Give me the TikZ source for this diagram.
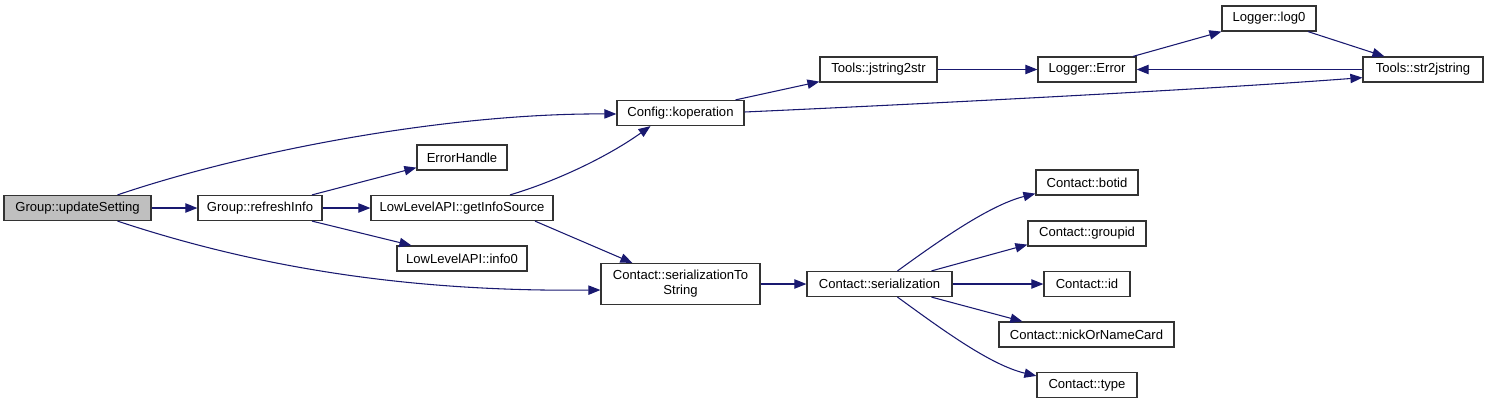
\documentclass[tikz,border=0pt]{standalone}
\usepackage{fontspec}
\setmainfont{Liberation Sans}
\usetikzlibrary{arrows.meta,calc}
\definecolor{navyc}{HTML}{191970}
\definecolor{grayfill}{HTML}{BFBFBF}
\definecolor{boxline}{HTML}{333333}
\begin{document}
\begin{tikzpicture}[x=0.75pt,y=-0.75pt,
  box/.style={draw=boxline,line width=0.9pt,fill=white,inner sep=0pt,minimum height=18.75pt,align=center,font=\fontsize{9.8}{11.2}\selectfont},
  w/.style={minimum width=#1*0.75pt},
  edge/.style={draw=navyc,line width=0.8pt,-{Triangle[length=9pt,width=7pt]}}]
\useasboundingbox (0,0) rectangle (1488,404);
\node[box,w=147,fill=grayfill] (us) at (77.5,208) {Group::updateSetting};
\node[box,w=124] (ri) at (260,208) {Group::refreshInfo};
\node[box,w=182] (gis) at (462,208) {LowLevelAPI::getInfoSource};
\node[box,w=90] (eh) at (462,157.5) {ErrorHandle};
\node[box,w=130] (i0) at (462,258.5) {LowLevelAPI::info0};
\node[box,w=127] (ko) at (680.5,113) {Config::koperation};
\node[box,w=159,minimum height=30.75pt] (sts) at (680.5,284) {Contact::serializationTo\\String};
\node[box,w=145] (ser) at (879.5,284) {Contact::serialization};
\node[box,w=117] (js) at (878.5,69.5) {Tools::jstring2str};
\node[box,w=98] (le) at (1087,69.5) {Logger::Error};
\node[box,w=94] (l0) at (1269,18.5) {Logger::log0};
\node[box,w=120] (s2) at (1423,69.5) {Tools::str2jstring};
\node[box,w=102] (bot) at (1087,182.5) {Contact::botid};
\node[box,w=118] (gid) at (1087,233.5) {Contact::groupid};
\node[box,w=86] (cid) at (1087,284) {Contact::id};
\node[box,w=175] (nick) at (1086.5,334.5) {Contact::nickOrNameCard};
\node[box,w=100] (typ) at (1087,385) {Contact::type};

\draw[edge] (us) -- (ri);
\draw[edge] ($(us.north)+(40,0)$) .. controls (250,150) and (450,113) .. ($(ko.west)+(0,1)$);
\draw[edge] ($(us.south)+(40,0)$) .. controls (250,265) and (400,292) .. ($(sts.west)+(0,6)$);
\draw[edge] ($(ri.north)+(52,0)$) -- ($(eh.south west)+(0,-3)$);
\draw[edge] (ri) -- (gis);
\draw[edge] ($(ri.south)+(52,0)$) -- ($(i0.north west)+(15,0)$);
\draw[edge] ($(gis.north)+(48,0)$) .. controls (560,180) and (610,155) .. ($(ko.south)+(-30,0)$);
\draw[edge] ($(gis.south)+(73,0)$) -- ($(sts.north west)+(32,0)$);
\draw[edge] ($(ko.north)+(55,0)$) -- ($(js.south west)+(0,-1)$);
\draw[edge] ($(ko.east)+(0,-1)$) .. controls (900,105) and (1200,90) .. ($(s2.south west)+(0,-5)$);
\draw[edge] (js) -- (le);
\draw[edge] ($(le.north)+(46,0)$) -- ($(l0.south west)+(0,0)$);
\draw[edge] ($(l0.south)+(39,0)$) -- ($(s2.north west)+(22,0)$);
\draw[edge] (s2) -- (le);
\draw[edge] (sts) -- (ser);
\draw[edge] ($(ser.north)+(18,0)$) .. controls (940,240) and (990,205) .. ($(bot.south west)+(0,-2)$);
\draw[edge] ($(ser.north)+(52,0)$) -- ($(gid.south west)+(0,-2)$);
\draw[edge] (ser) -- (cid);
\draw[edge] ($(ser.south)+(52,0)$) -- ($(nick.north west)+(24,0)$);
\draw[edge] ($(ser.south)+(18,0)$) .. controls (940,328) and (990,365) .. ($(typ.north west)+(0,4)$);
\end{tikzpicture}
\end{document}
